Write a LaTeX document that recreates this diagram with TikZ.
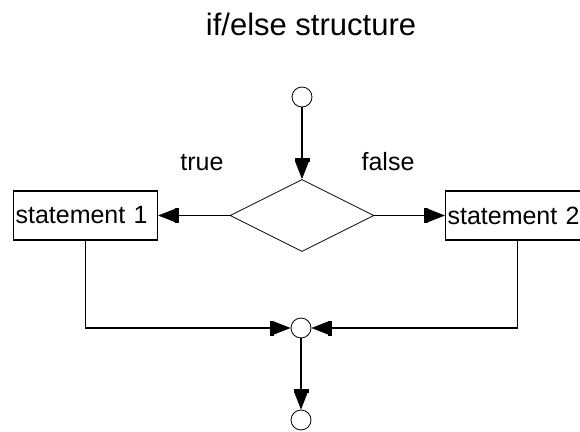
\documentclass[tikz,border=0pt]{standalone}
\usepackage{fontspec}
\setmainfont{Liberation Sans}
\usetikzlibrary{shapes.geometric,arrows.meta}
\begin{document}
\begin{tikzpicture}[x=1pt,y=-1pt,
  conn/.style={line width=1.1pt,-{Rectangle[length=4pt,width=15pt]Triangle[length=17pt,width=13pt]}},
  term/.style={circle,draw,line width=0.8pt,minimum size=20pt,inner sep=0pt},
  decide/.style={diamond,draw,line width=0.8pt,minimum width=144pt,minimum height=72pt,inner sep=0pt,shape aspect=2},
  stmt/.style={rectangle,draw,line width=1.1pt,minimum height=49pt,text width=140pt,align=left,inner xsep=2pt,inner ysep=0pt,font=\fontsize{25}{28}\selectfont},
  lbl/.style={font=\fontsize{25}{28}\selectfont,inner sep=0pt},
  ttl/.style={font=\fontsize{31}{36}\selectfont,inner sep=0pt}]
\useasboundingbox (0,0) rectangle (580,431);
\clip (0,0) rectangle (580,431);
\fill[white] (0,0) rectangle (580,431);
\node[ttl,anchor=base] (title) at (311,35) {if/else structure};
\node[term] (start) at (302,97) {};
\node[decide] (dia) at (302,215.5) {};
\node[stmt,anchor=west] (s1) at (13,215.5) {statement 1};
\node[stmt,anchor=west] (s2) at (445,215.5) {statement 2};
\node[lbl,anchor=base] (t) at (202,170) {true};
\node[lbl,anchor=base] (f) at (388,170) {false};
\node[term] (merge) at (301,328) {};
\node[term] (stop) at (301,420) {};
\draw[conn] (start) -- (dia.north);
\draw[conn] (dia.west) -- (s1.east);
\draw[conn] (dia.east) -- (s2.west);
\draw[conn] (s1.south) |- (merge.west);
\draw[conn] (s2.south) |- (merge.east);
\draw[conn] (merge) -- (stop);
\end{tikzpicture}
\end{document}
